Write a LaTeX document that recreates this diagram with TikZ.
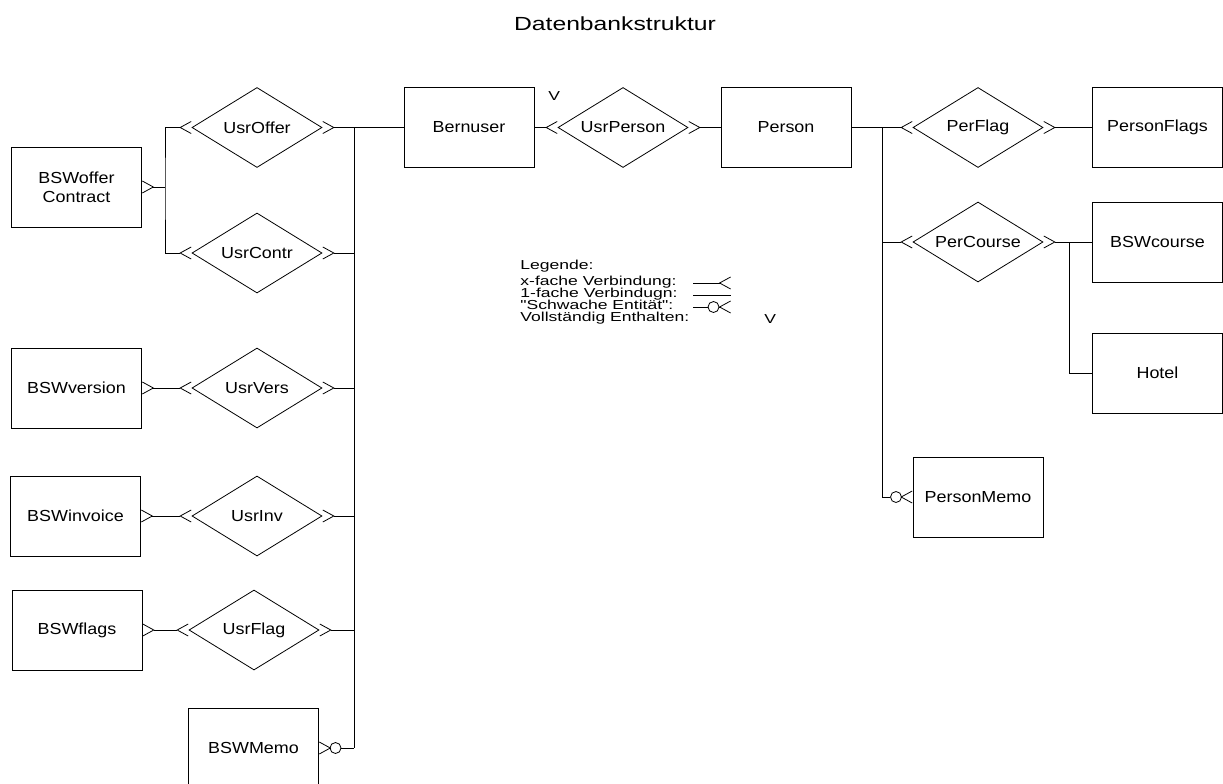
\documentclass[tikz,border=0pt]{standalone}
\usepackage{fontspec}
\setmainfont{Liberation Sans}[FakeStretch=1.12]
\newfontfamily\titlefont{Liberation Sans}[FakeStretch=1.3]
\newfontfamily\legendfont{Liberation Sans}[FakeStretch=1.35]
\usetikzlibrary{arrows.meta, shapes.geometric}

\tikzset{
    entity/.style={draw, minimum width=130pt, minimum height=80pt, inner sep=0pt, align=center},
    rel/.style={draw, diamond, aspect=1.625, minimum width=130pt, minimum height=80pt, inner sep=0pt},
    weak/.style={draw, circle, minimum size=11pt, inner sep=0pt},
    txt/.style={anchor=west, inner sep=0pt, text height=9.5pt, text depth=2.5pt, font=\legendfont\fontsize{13}{15}\selectfont},
    cf/.tip={Straight Barb[reversed, length=11pt, width=12pt]}
}

\begin{document}
\begin{tikzpicture}[x=1pt, y=-1pt, line width=0.8pt, every node/.style={font=\fontsize{16}{19}\selectfont}]
    \useasboundingbox (0,0) rectangle (1223,784);

    \node[font=\titlefont\fontsize{19}{22}\selectfont] (title) at (615,24) {Datenbankstruktur};

    \node[entity] (BOC) at (76.5,187) {BSWoffer\\Contract};
    \node[entity] (BV) at (76.5,388) {BSWversion};
    \node[entity] (BI) at (75.5,516) {BSWinvoice};
    \node[entity] (BF) at (77,630) {BSWflags};
    \node[entity] (BM) at (253.5,748) {BSWMemo};
    \node[entity] (BU) at (469,127.5) {Bernuser};
    \node[entity] (PE) at (786,127.5) {Person};
    \node[entity] (PFL) at (1157.5,127.5) {PersonFlags};
    \node[entity] (BC) at (1157.5,242) {BSWcourse};
    \node[entity] (HO) at (1157.5,373) {Hotel};
    \node[entity] (PM) at (978,497) {PersonMemo};

    \node[rel] (UO) at (257,127.5) {UsrOffer};
    \node[rel] (UC) at (257,253) {UsrContr};
    \node[rel] (UV) at (257,388) {UsrVers};
    \node[rel] (UI) at (257,516) {UsrInv};
    \node[rel] (UF) at (254,630) {UsrFlag};
    \node[rel] (UP) at (623,127.5) {UsrPerson};
    \node[rel] (PF) at (978,127.5) {PerFlag};
    \node[rel] (PC) at (978,242) {PerCourse};

    \node[weak] (BMo) at (335.5,748) {};
    \node[weak] (PMo) at (896,497) {};

    \node[txt] (v1) at (548,97) {V};

    \coordinate (jOC) at (165,187);
    \coordinate (lbus) at (354,127.5);
    \coordinate (rbus) at (882,127.5);
    \coordinate (jHO) at (1069,242);

    \draw[cf-] (BOC.east) -- (jOC);
    \draw[cf-cf] (UO.west) -| (jOC) |- (UC.west);
    \draw[cf-] (UO.east) -- (BU.west);
    \draw (lbus) -- (lbus |- BMo.east);
    \draw[cf-] (UC.east) -- (UC.east -| lbus);
    \draw[cf-cf] (BV.east) -- (UV.west);
    \draw[cf-] (UV.east) -- (UV.east -| lbus);
    \draw[cf-cf] (BI.east) -- (UI.west);
    \draw[cf-] (UI.east) -- (UI.east -| lbus);
    \draw[cf-cf] (BF.east) -- (UF.west);
    \draw[cf-] (UF.east) -- (UF.east -| lbus);
    \draw[cf-] (BM.east) -- (BMo.west);
    \draw (BMo.east) -- (BMo.east -| lbus);

    \draw[-cf] (BU.east) -- (UP.west);
    \draw[cf-] (UP.east) -- (PE.west);
    \draw[-cf] (PE.east) -- (PF.west);
    \draw[-cf] (rbus) |- (PC.west);
    \draw (rbus) |- (PMo.west);
    \draw[-cf] (PMo.east) -- (PM.west);
    \draw[cf-] (PF.east) -- (PFL.west);
    \draw[cf-] (PC.east) -- (BC.west);
    \draw (jHO) |- (HO.west);

    \node[txt] (lg) at (520,265.5) {Legende:};
    \node[txt] (lgx) at (520,282) {x-fache Verbindung:};
    \node[txt] (lg1) at (520,294) {1-fache Verbindugn:};
    \node[txt] (lgs) at (520,306) {"Schwache Entität":};
    \node[txt] (lgv) at (520,318) {Vollständig Enthalten:};
    \node[txt] (v2) at (764,320) {V};

    \coordinate (lx1) at (693,283);
    \coordinate (lx2) at (731,283);
    \coordinate (l11) at (693,295);
    \coordinate (l12) at (731,295);
    \coordinate (ls1) at (693,307);
    \coordinate (ls2) at (731,307);
    \node[weak] (lso) at (713.5,307) {};

    \draw[-cf] (lx1) -- (lx2);
    \draw (l11) -- (l12);
    \draw (ls1) -- (lso.west);
    \draw[-cf] (lso.east) -- (ls2);
\end{tikzpicture}
\end{document}
